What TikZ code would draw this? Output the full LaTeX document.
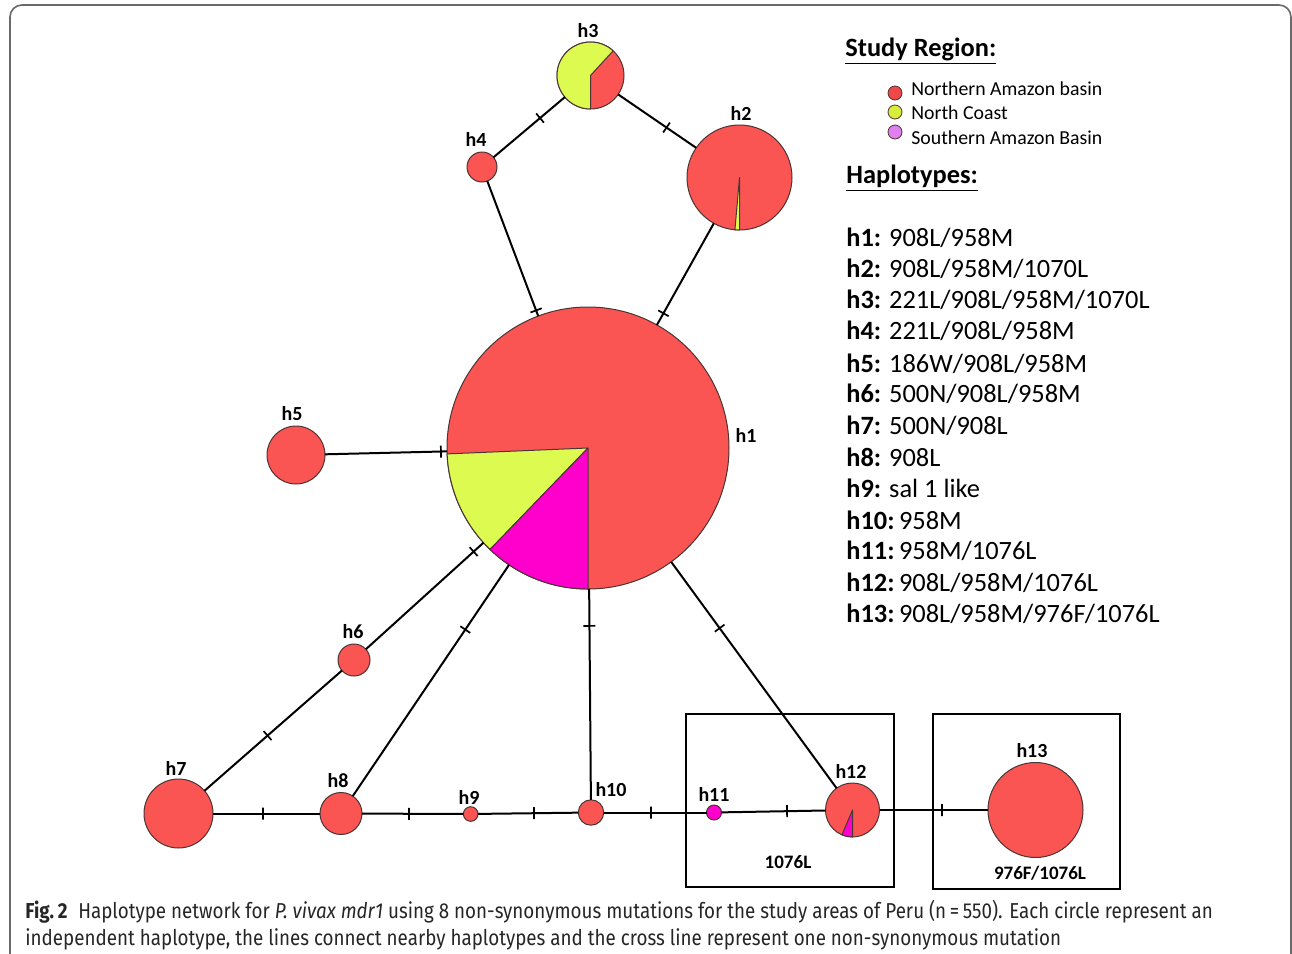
\documentclass[tikz,border=0pt]{standalone}
\usepackage{fontspec}
\setmainfont{Carlito}
\newfontfamily\capfont[FakeStretch=0.87]{Fira Sans}
\definecolor{nred}{HTML}{FA5553}
\definecolor{nyel}{HTML}{DCFA50}
\definecolor{nmag}{HTML}{FF00CC}
\definecolor{lred}{HTML}{F04848}
\definecolor{lyel}{HTML}{D8EC3C}
\definecolor{lmag}{HTML}{E080EC}
\definecolor{edgec}{HTML}{4A3434}
\definecolor{framec}{HTML}{6A6A6A}
\newcommand\pieslice[5]{%
  \begin{scope}[shift={(#1.center)},x=0.5pt,y=0.5pt]
    \filldraw[fill=#5,draw=edgec,line width=0.5pt,line join=round] (0,0) -- (#2:#4) arc[start angle=#2,end angle=#3,radius=#4] -- cycle;
  \end{scope}}
\begin{document}
\begin{tikzpicture}[x=0.5pt,y=-0.5pt,
  hap/.style={circle,draw=edgec,line width=0.5pt,fill=nred,inner sep=0pt,outer sep=0pt},
  hlab/.style={font=\fontsize{10}{12}\selectfont\bfseries,inner sep=0pt},
  link/.style={line width=1pt,black},
  tk/.style={sloped,shape=rectangle,draw=black,line width=0.85pt,inner sep=0pt,outer sep=0pt,minimum width=0pt,minimum height=6pt},
  legc/.style={circle,draw=edgec,line width=0.4pt,inner sep=0pt,minimum size=7pt},
  legt/.style={anchor=west,inner sep=0pt,font=\fontsize{9.9}{11}\selectfont},
  head/.style={anchor=west,inner sep=0pt,font=\fontsize{13.2}{15}\selectfont\bfseries},
  hapt/.style={anchor=west,inner sep=0pt,font=\fontsize{13.2}{15}\selectfont},
  boxt/.style={inner sep=0pt,font=\fontsize{9.5}{11}\selectfont\bfseries}]
\useasboundingbox (0,0) rectangle (1292,954);
\fill[white] (0,0) rectangle (1292,954);
% frame
\draw[framec,line width=0.8pt,rounded corners=6pt] (10,980) -- (10,5) -- (1291,5) -- (1291,980);
% haplotype circles
\node[hap,minimum size=141pt] (h1) at (588,448) {};
\node[hap,minimum size=52.5pt] (h2) at (739.5,177.5) {};
\node[hap,minimum size=33.5pt] (h3) at (590.5,75.5) {};
\node[hap,minimum size=15pt] (h4) at (482,167) {};
\node[hap,minimum size=29pt] (h5) at (296,455) {};
\node[hap,minimum size=16pt] (h6) at (354,660) {};
\node[hap,minimum size=34.5pt] (h7) at (178.5,813.5) {};
\node[hap,minimum size=21pt] (h8) at (341,813.5) {};
\node[hap,minimum size=7.3pt] (h9) at (470.7,814) {};
\node[hap,minimum size=12.7pt] (h10) at (591,812.5) {};
\node[hap,fill=nmag,minimum size=7.5pt] (h11) at (714,812.5) {};
\node[hap,minimum size=27pt] (h12) at (852.5,810) {};
\node[hap,minimum size=47.5pt] (h13) at (1035.5,810) {};
% pie slices
\pieslice{h1}{182.4}{226}{141}{nyel}
\pieslice{h1}{226}{270}{141}{nmag}
\pieslice{h2}{265}{270}{52.5}{nyel}
\pieslice{h3}{47.5}{270}{33.5}{nyel}
\pieslice{h12}{247}{270}{27}{nmag}
% links with mutation ticks
\draw[link] (h4) -- (h1) node[tk,pos=0.958]{};
\draw[link] (h2) -- (h1) node[tk,pos=0.885]{};
\draw[link] (h4) -- (h3) node[tk,pos=0.652]{};
\draw[link] (h3) -- (h2) node[tk,pos=0.62]{};
\draw[link] (h5) -- (h1) node[tk,pos=0.95]{};
\draw[link] (h6) -- (h1) node[tk,pos=0.916]{};
\draw[link] (h7) -- (h6) node[tk,pos=0.459]{};
\draw[link] (h8) -- (h1) node[tk,pos=0.72]{};
\draw[link] (h10) -- (h1) node[tk,pos=0.825]{};
\draw[link] (h1) -- (h12) node[tk,pos=0.293]{};
\draw[link] (h7) -- (h8) node[tk,pos=0.467]{};
\draw[link] (h8) -- (h9) node[tk,pos=0.463]{};
\draw[link] (h9) -- (h10) node[tk,pos=0.558]{};
\draw[link] (h10) -- (h11) node[tk,pos=0.46]{};
\draw[link] (h11) -- (h12) node[tk,pos=0.63]{};
\draw[link] (h12) -- (h13) node[tk,pos=0.576]{};
% haplotype labels
\node[hlab] (l1) at (746,435) {h1};
\node[hlab] (l2) at (741,113) {h2};
\node[hlab] (l3) at (588,31) {h3};
\node[hlab] (l4) at (476,139) {h4};
\node[hlab] (l5) at (292,414) {h5};
\node[hlab] (l6) at (353,632) {h6};
\node[hlab] (l7) at (176,768) {h7};
\node[hlab] (l8) at (338,781) {h8};
\node[hlab] (l9) at (469,797) {h9};
\node[hlab] (l10) at (611,790) {h10};
\node[hlab] (l11) at (714,794) {h11};
\node[hlab] (l12) at (851,771) {h12};
\node[hlab] (l13) at (1032,751) {h13};
% boxes
\draw[black,line width=0.6pt] (686,714) rectangle (894,887);
\draw[black,line width=0.6pt] (933,714) rectangle (1120,889);
\node[boxt] (b1) at (788,862) {1076L};
\node[boxt] (b2) at (1040,873) {976F/1076L};
% legend
\node[head] (sr) at (845,51) {\underline{Study Region:}};
\node[legc,fill=lred] (c1) at (895,93) {};
\node[legc,fill=lyel] (c2) at (895,112) {};
\node[legc,fill=lmag] (c3) at (895,132) {};
\node[legt] (t1) at (911,89) {Northern Amazon basin};
\node[legt] (t2) at (911,113) {North Coast};
\node[legt] (t3) at (911,138) {Southern Amazon Basin};
\node[head] (hp) at (846,178) {\underline{Haplotypes:}};
\node[hapt] (k1) at (846,238) {\textbf{h1:} 908L/958M};
\node[hapt] (k2) at (846,269) {\textbf{h2:} 908L/958M/1070L};
\node[hapt] (k3) at (846,300) {\textbf{h3:} 221L/908L/958M/1070L};
\node[hapt] (k4) at (846,331) {\textbf{h4:} 221L/908L/958M};
\node[hapt] (k5) at (846,364) {\textbf{h5:} 186W/908L/958M};
\node[hapt] (k6) at (846,394) {\textbf{h6:} 500N/908L/958M};
\node[hapt] (k7) at (846,426) {\textbf{h7:} 500N/908L};
\node[hapt] (k8) at (846,457) {\textbf{h8:} 908L};
\node[hapt] (k9) at (846,488) {\textbf{h9:} sal 1 like};
\node[hapt] (k10) at (846,520) {\textbf{h10:}\,958M};
\node[hapt] (k11) at (846,551) {\textbf{h11:}\,958M/1076L};
\node[hapt] (k12) at (846,583) {\textbf{h12:}\,908L/958M/1076L};
\node[hapt] (k13) at (846,614) {\textbf{h13:}\,908L/958M/976F/1076L};
% caption
\node[anchor=north west,inner sep=0pt,align=left,text=black!85,font=\capfont\fontsize{10.8}{13.5}\selectfont] (cap) at (25,900)
 {\textbf{Fig.\,2}\enspace Haplotype network for \textit{P. vivax mdr1} using 8 non-synonymous mutations for the study areas of Peru (n\,=\,550). Each circle represent an\\
  independent haplotype, the lines connect nearby haplotypes and the cross line represent one non-synonymous mutation};
\end{tikzpicture}
\end{document}
